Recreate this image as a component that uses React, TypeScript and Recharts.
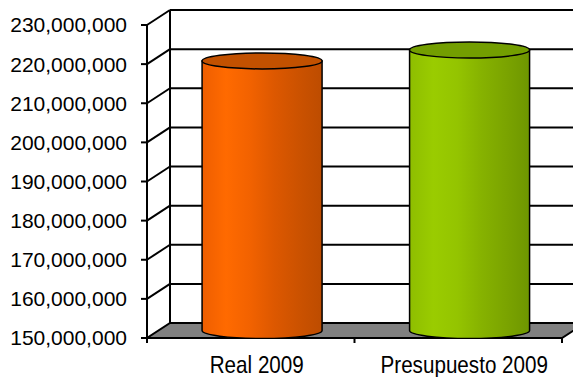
import React from "react";
import { BarChart, Bar, XAxis, YAxis, CartesianGrid, Cell } from "recharts";

const categories = ["Real 2009", "Presupuesto 2009"];
const values = [218900000, 221700000];
const yTicks = [
  150000000, 160000000, 170000000, 180000000, 190000000, 200000000, 210000000, 220000000, 230000000,
];

const data = categories.map((name, i) => ({ name, value: values[i] }));

// layout of the fake 3D box
const W = 573;
const H = 377;
const TOP = 25;
const RIGHT = 11;
const Y_AXIS_W = 147;
const X_AXIS_H = 39;
const FLOOR_Y = H - X_AXIS_H;
const DX = 23;
const DY = 15;

const BAR_COLORS = [
  {
    id: "gradReal",
    top: "#C25100",
    stops: ["#EE5E00", "#FF6A00", "#F26200", "#DD5800", "#CC5200", "#BD4C00"],
  },
  {
    id: "gradBudget",
    top: "#739E00",
    stops: ["#8EBE00", "#9ACC00", "#94C400", "#86B200", "#7BA400", "#6E9600"],
  },
];

function GridLine(props: any) {
  const { x1, x2, y1, index } = props;
  const by = y1 - DY;
  const isFloor = Math.abs(y1 - FLOOR_Y) < 1;
  if (isFloor) {
    const n = categories.length;
    const step = (x2 - x1) / n;
    return (
      <g key={`floor-${index}`}>
        <polygon
          points={`${x1},${y1} ${x2},${y1} ${x2 + DX},${by} ${x1 + DX},${by}`}
          fill="#808080"
          stroke="#000"
          strokeWidth={2}
        />
        <line x1={x1 + DX} y1={by} x2={x1 + DX} y2={TOP - DY} stroke="#000" strokeWidth={2} />
        {Array.from({ length: n + 1 }, (_, i) => (
          <line key={i} x1={x1 + i * step} y1={y1} x2={x1 + i * step} y2={y1 + 5} stroke="#000" strokeWidth={2} />
        ))}
      </g>
    );
  }
  return (
    <g key={`grid-${index}`}>
      <line x1={x1} y1={y1} x2={x1 + DX} y2={by} stroke="#000" strokeWidth={2} />
      <line x1={x1 + DX} y1={by} x2={x2 + DX} y2={by} stroke="#000" strokeWidth={2} />
    </g>
  );
}

function Cylinder(props: any) {
  const { x, y, width, height, index } = props;
  const c = BAR_COLORS[index % BAR_COLORS.length];
  const rx = width / 2;
  const ry = 8;
  const cx = x + rx + DX / 2;
  const top = y - DY / 2;
  const bottom = y + height - DY / 2;
  const left = cx - rx;
  const right = cx + rx;
  return (
    <g>
      <path
        d={`M${left},${top} L${left},${bottom} A${rx},${ry} 0 0 0 ${right},${bottom} L${right},${top} Z`}
        fill={`url(#${c.id})`}
        stroke="#000"
        strokeWidth={1.5}
      />
      <ellipse cx={cx} cy={top} rx={rx} ry={ry} fill={c.top} stroke="#000" strokeWidth={1.5} />
    </g>
  );
}

// narrow label font is not installed, so squeeze a regular sans
function XTick(props: any) {
  const { x, y, payload } = props;
  const tx = x + 6;
  const ty = y + 27;
  return (
    <text
      x={0}
      y={0}
      transform={`translate(${tx},${ty}) scale(0.86,1)`}
      textAnchor="middle"
      fontFamily="'Liberation Sans', Arial, sans-serif"
      fontSize={24}
      fill="#000"
    >
      {payload.value}
    </text>
  );
}

export default function App() {
  return (
    <div style={{ position: "absolute", left: 0, top: 0, width: W, height: H, background: "#fff" }}>
      <BarChart
        width={W}
        height={H}
        data={data}
        margin={{ top: TOP, right: RIGHT, bottom: 0, left: 0 }}
        barCategoryGap="21%"
      >
        <defs>
          {BAR_COLORS.map((c) => (
            <linearGradient key={c.id} id={c.id} x1="0" y1="0" x2="1" y2="0">
              {c.stops.map((s, i) => (
                <stop key={i} offset={`${(i / (c.stops.length - 1)) * 100}%`} stopColor={s} />
              ))}
            </linearGradient>
          ))}
        </defs>
        <CartesianGrid vertical={false} horizontal={GridLine as any} />
        <XAxis
          dataKey="name"
          height={X_AXIS_H}
          axisLine={false}
          tickLine={false}
          tick={<XTick />}
          interval={0}
        />
        <YAxis
          width={Y_AXIS_W}
          domain={[150000000, 230000000]}
          ticks={yTicks}
          interval={0}
          tickFormatter={(v: number) => v.toLocaleString("en-US")}
          tick={{ fill: "#000", fontSize: 21, fontFamily: "'Liberation Sans', Arial, sans-serif" }}
          tickMargin={14}
          axisLine={{ stroke: "#000", strokeWidth: 2 }}
          tickLine={{ stroke: "#000", strokeWidth: 2 }}
          allowDataOverflow
        />
        <Bar dataKey="value" shape={<Cylinder />} isAnimationActive={false}>
          {data.map((d, i) => (
            <Cell key={d.name} fill={BAR_COLORS[i].top} />
          ))}
        </Bar>
      </BarChart>
    </div>
  );
}
